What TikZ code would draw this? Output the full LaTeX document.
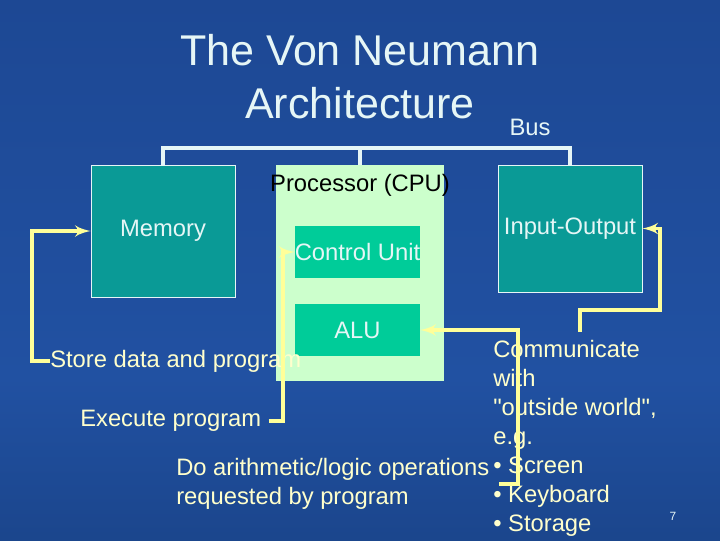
\documentclass[tikz,border=0pt]{standalone}
\usepackage{fontspec}
\setmainfont{Liberation Sans}[Ligatures=TeXOff]
\usepackage{tikz}
\usetikzlibrary{arrows, positioning, calc}
\definecolor{slideblue}{HTML}{2151A2}
\definecolor{slidemid}{HTML}{1D4894}
\definecolor{slidelow}{HTML}{173E7E}
\definecolor{slidedark}{HTML}{0F2C55}
\definecolor{slidetop}{HTML}{0B2442}
\definecolor{slideupper}{HTML}{163A72}
\definecolor{unitteal}{HTML}{0A9A96}
\definecolor{cpugreen}{HTML}{CCFFCC}
\definecolor{subgreen}{HTML}{00CC99}
\definecolor{paleyellow}{HTML}{FFFFCC}
\definecolor{wireyellow}{HTML}{FFFF99}
\definecolor{titlewhite}{HTML}{E6F6F6}
\pgfdeclareverticalshading{slidebg}{100bp}{color(0bp)=(slidedark); color(15bp)=(slidelow);
  color(40bp)=(slideblue); color(75bp)=(slidemid); color(92bp)=(slideupper); color(100bp)=(slidetop)}
\tikzstyle{txt} = [inner sep=0pt, font=\fontsize{16.9}{20.6}\selectfont]
\tikzstyle{unit} = [rectangle, draw=titlewhite, line width=0.6pt, fill=unitteal, text=titlewhite, minimum width=3.6cm, txt]
\tikzstyle{sub} = [rectangle, fill=subgreen, text=titlewhite, minimum width=3.125cm, minimum height=1.3cm, txt]
\tikzstyle{note} = [txt, text=paleyellow, align=left]
\tikzstyle{line} = [draw=wireyellow, line width=2.8pt, -latex']
\tikzstyle{bus} = [draw=titlewhite, line width=3.5pt]

\begin{document}
\begin{tikzpicture}[x=0.025cm, y=-0.025cm]
    \useasboundingbox (0,0) rectangle (720,540);
    \shade[shading=slidebg] (0,0) rectangle (720,540);
    %%% Title:
    \node[txt, text=titlewhite, align=center, font=\fontsize{30.6}{37.7}\selectfont] (title) at (360,77)
      {The Von Neumann\\Architecture};
    \node[txt, text=titlewhite] (buslabel) at (530,127) {Bus};
    %%% Units:
    \node[unit, minimum height=3.3cm] (mem) at (163,231) {Memory};
    \node[unit, minimum height=3.175cm] (io) at (570,228.5) {Input-Output};
    \node[rectangle, fill=cpugreen, minimum width=4.2cm, minimum height=5.4cm] (cpu) at (360,273) {};
    \node[txt, text=black] (cpulabel) at (360,185) {Processor (CPU)};
    \node[sub] (cu) at (357.5,252) {Control Unit};
    \node[sub] (alu) at (357.5,330) {ALU};
    %%% Bus:
    \coordinate (bus) at (360,148);
    \draw[bus] (mem.north) |- (bus) -| (io.north);
    \draw[bus] (cpu.north) -- (bus);
    %%% Notes:
    \node[note, anchor=west] (store) at (50,361) {Store data and program};
    \node[note, anchor=west] (exec) at (80,421) {Execute program};
    \node[note, anchor=west] (arith) at (176,484)
      {Do arithmetic/logic operations\\requested by program};
    \node[note, anchor=west] (comm) at (493,438)
      {Communicate\\with\\"outside world",\\e.g.\\• Screen\\• Keyboard\\• Storage};
    \node[txt, text=titlewhite, font=\fontsize{8.5}{10}\selectfont] (page) at (673,516) {7};
    \coordinate (iotap) at (580,332);
    %%% Wires:
    \path [line] (store.west) -- (32,361) |- (mem.west);
    \path [line, shorten <=5pt] (exec.east) -- (283,421) |- (cu.west);
    \path [line, shorten <=7pt] (arith.east) -| (518,330) -- (alu.east);
    \path [line] (iotap) -- (580,310) -| (660,228.5) -- (io.east);
\end{tikzpicture}
\end{document}
